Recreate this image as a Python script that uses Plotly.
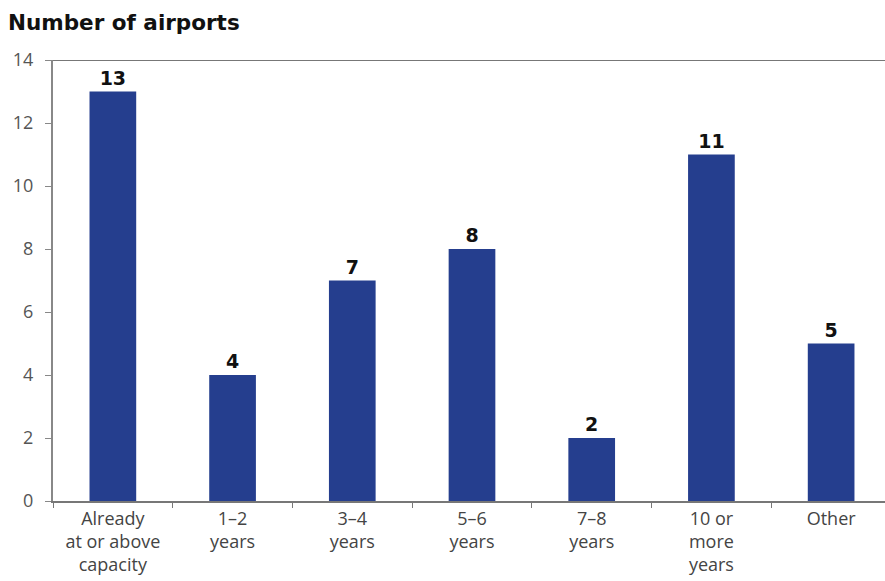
import plotly.graph_objects as go

categories = ["Already<br>at or above<br>capacity", "1–2<br>years", "3–4<br>years", "5–6<br>years",
              "7–8<br>years", "10 or<br>more<br>years", "Other"]
values = [13, 4, 7, 8, 2, 11, 5]
y_ticks = [0, 2, 4, 6, 8, 10, 12, 14]

fig = go.Figure(go.Bar(
    x=categories, y=values, width=0.39,
    marker=dict(color="#253e8e", line=dict(width=0)),
    text=[str(v) for v in values], textposition="outside", cliponaxis=False,
    textfont=dict(family="DejaVu Sans", size=19, color="#111"),
    texttemplate="<b>%{text}</b>",
))

fig.update_layout(
    width=885, height=581,
    margin=dict(l=53, r=0, t=60, b=80, autoexpand=False),
    paper_bgcolor="white", plot_bgcolor="white",
    showlegend=False,
    font=dict(family="Open Sans", size=18, color="#444"),
    annotations=[dict(text="<b>Number of airports</b>", x=0, xref="paper", xanchor="left", xshift=-47,
                      y=1.0, yref="paper", yanchor="middle", yshift=38, showarrow=False,
                      font=dict(family="DejaVu Sans", size=21.5, color="#111"))],
    xaxis=dict(range=[-0.5, 6.45], showline=True, linecolor="#777", linewidth=2,
               ticks="outside", tickson="boundaries", ticklen=5, tickcolor="#777",
               tickfont=dict(size=18, color="#444"), showgrid=False, fixedrange=True,
               automargin=False),
    yaxis=dict(range=[0, 14], tickvals=y_ticks, showline=True, linecolor="#888", linewidth=2,
               ticks="outside", ticklen=6, tickcolor="#888", showgrid=False, zeroline=False,
               tickfont=dict(size=18, color="#555"), automargin=False, ticklabelstandoff=8),
    shapes=[dict(type="line", xref="paper", yref="y", x0=0, x1=1, y0=14, y1=14,
                 line=dict(color="#777", width=2))],
)
fig.write_html("out.html", config={"displayModeBar": False},
               post_script="document.body.style.margin='0';")
